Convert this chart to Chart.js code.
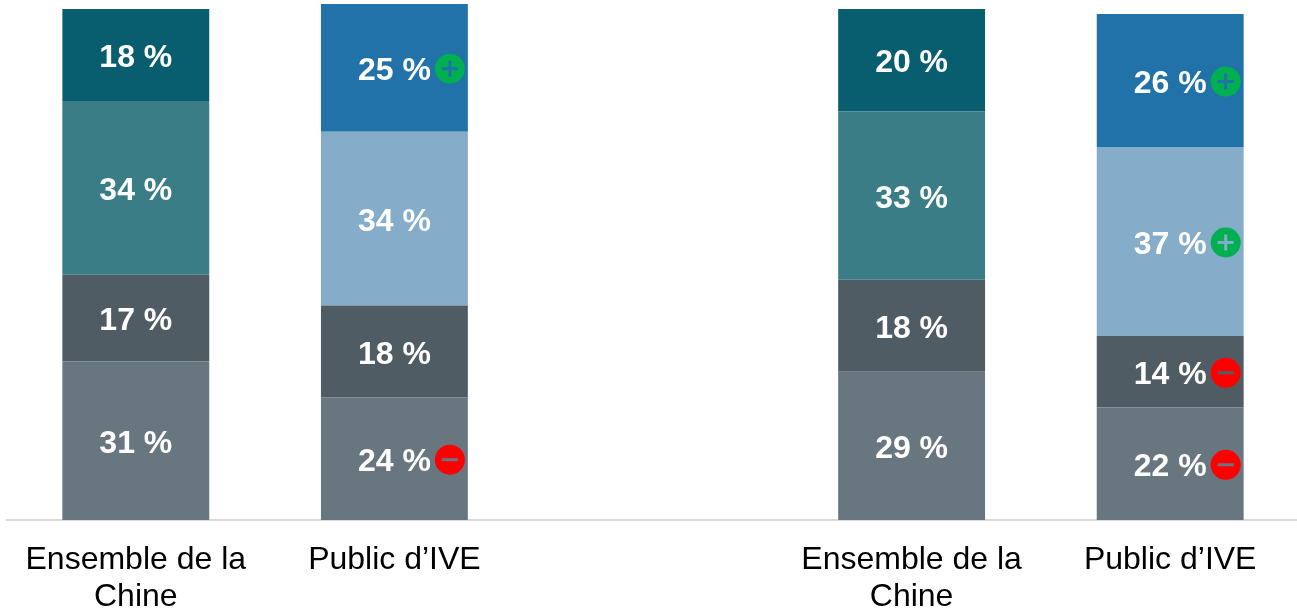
<!DOCTYPE html>
<html>
<head>
<meta charset="utf-8">
<script src="https://cdn.jsdelivr.net/npm/chart.js@4"></script>
<style>
  html, body { margin: 0; padding: 0; background: #fff; overflow: hidden; }
  #wrap { width: 1297px; height: 611px; overflow: hidden; }
</style>
</head>
<body>
<div id="wrap"><canvas id="chart" width="1300" height="611"></canvas></div>
<script>
// Categories (blank slot in the middle separates the two groups)
const categories = [['Ensemble de la', 'Chine'], 'Public d\u2019IVE', '', ['Ensemble de la', 'Chine'], 'Public d\u2019IVE'];

// Series values, bottom to top
const seriesA = [31, 24, null, 29, 22];
const seriesB = [17, 18, null, 18, 14];
const seriesC = [34, 34, null, 33, 37];
const seriesD = [18, 25, null, 20, 26];

// Significance badges per series
const badgesA = ['', '-', '', '', '-'];
const badgesB = ['', '', '', '', '-'];
const badgesC = ['', '', '', '', '+'];
const badgesD = ['', '+', '', '', '+'];

const colorsA = '#68777F';
const colorsB = '#505C63';
const colorsC = ['#3A7D87', '#85ACC8', '#3A7D87', '#3A7D87', '#85ACC8'];
const colorsD = ['#085E6E', '#2072A9', '#085E6E', '#085E6E', '#2072A9'];

function makeSet(values, color, badges) {
    return { data: values, backgroundColor: color, badges: badges, stack: 'one' };
}

// Draws the percent labels and the +/- badges on top of the bars
const segmentLabels = {
    id: 'segmentLabels',
    afterDatasetsDraw(chart) {
        const ctx = chart.ctx;
        ctx.save();
        chart.data.datasets.forEach((ds, i) => {
            chart.getDatasetMeta(i).data.forEach((bar, j) => {
                if (ds.data[j] == null) return;
                const y = (bar.y + bar.base) / 2 + 1;
                ctx.font = 'bold 32px "Liberation Sans"';
                ctx.fillStyle = '#fff';
                ctx.textAlign = 'center';
                ctx.textBaseline = 'middle';
                ctx.fillText(ds.data[j] + ' %', bar.x, y + 2.5);

                const badge = ds.badges[j];
                if (!badge) return;
                const bx = bar.x + 55.5;
                ctx.beginPath();
                ctx.arc(bx, y, 15, 0, Math.PI * 2);
                ctx.fillStyle = badge === '+' ? '#00B050' : '#FF0000';
                ctx.fill();
                const segColor = Array.isArray(ds.backgroundColor) ? ds.backgroundColor[j] : ds.backgroundColor;
                ctx.strokeStyle = segColor;
                ctx.lineWidth = 3;
                ctx.beginPath();
                ctx.moveTo(bx - 8, y);
                ctx.lineTo(bx + 8, y);
                if (badge === '+') {
                    ctx.moveTo(bx, y - 8);
                    ctx.lineTo(bx, y + 8);
                }
                ctx.stroke();
            });
        });
        ctx.restore();
    }
};

new Chart(document.getElementById('chart').getContext('2d'), {
    type: 'bar',
    data: {
        labels: categories,
        datasets: [
            makeSet(seriesA, colorsA, badgesA),
            makeSet(seriesB, colorsB, badgesB),
            makeSet(seriesC, colorsC, badgesC),
            makeSet(seriesD, colorsD, badgesD)
        ]
    },
    plugins: [segmentLabels],
    options: {
        responsive: false,
        animation: false,
        layout: { padding: { left: 6.5, right: 0.5, top: 0, bottom: 0 } },
        categoryPercentage: 1,
        barPercentage: 0.568,
        plugins: { legend: { display: false }, tooltip: { enabled: false } },
        scales: {
            x: {
                stacked: true,
                grid: { display: false, drawTicks: false },
                border: { color: '#D9D9D9', width: 2 },
                afterFit(scale) { scale.height = 91; },
                ticks: {
                    color: '#000',
                    maxRotation: 0,
                    autoSkip: false,
                    padding: 22,
                    font: { family: '"Liberation Sans"', size: 32, lineHeight: 1.14 }
                }
            },
            y: { stacked: true, display: false, min: 0, max: 101.76 }
        }
    }
});
</script>
</body>
</html>
